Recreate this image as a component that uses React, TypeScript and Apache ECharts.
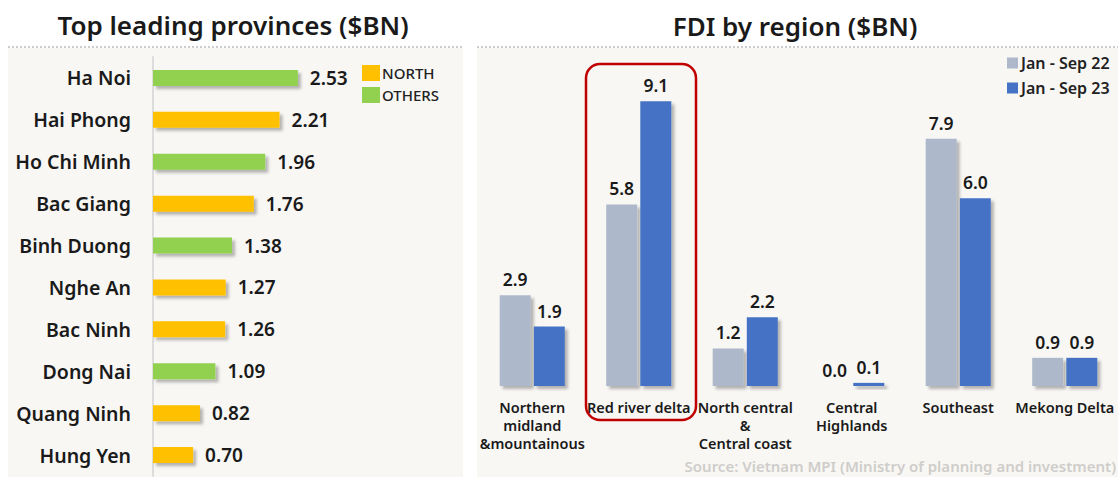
import React, { useEffect, useRef } from "react";
import * as echarts from "echarts";

const provinces = ["Ha Noi", "Hai Phong", "Ho Chi Minh", "Bac Giang", "Binh Duong", "Nghe An", "Bac Ninh", "Dong Nai", "Quang Ninh", "Hung Yen"];
const provinceValues = [2.53, 2.21, 1.96, 1.76, 1.38, 1.27, 1.26, 1.09, 0.82, 0.70];
const provinceGroup = ["OTHERS", "NORTH", "OTHERS", "NORTH", "OTHERS", "NORTH", "NORTH", "OTHERS", "NORTH", "NORTH"];

const regions = ["Northern\nmidland\n&mountainous", "Red river delta", "North central\n&\nCentral coast", "Central\nHighlands", "Southeast", "Mekong Delta"];
const fdi22 = [2.9, 5.8, 1.2, 0.0, 7.9, 0.9];
const fdi23 = [1.9, 9.1, 2.2, 0.1, 6.0, 0.9];

const FONT = "'Noto Sans', sans-serif";
const TXT = "#1a1a1a";

export default function App() {
  const ref = useRef<HTMLDivElement>(null);
  useEffect(() => {
    if (!ref.current) return;
    const chart = echarts.init(ref.current, undefined, { renderer: "svg" });
    const shadow = { shadowBlur: 3, shadowOffsetX: 3, shadowOffsetY: 3, shadowColor: "rgba(0,0,0,0.28)" };
    const provLabel = {
      show: true,
      position: "right" as const,
      distance: 12,
      fontFamily: FONT,
      fontSize: 19,
      fontWeight: 600,
      color: TXT,
      formatter: (p: any) => Number(p.value).toFixed(2),
    };
    const fdiLabel = {
      show: true,
      position: "top" as const,
      distance: 7,
      fontFamily: FONT,
      fontSize: 17.5,
      fontWeight: 600,
      color: TXT,
      formatter: (p: any) => Number(p.value).toFixed(1),
    };
    chart.setOption({
      animation: false,
      backgroundColor: "#ffffff",
      textStyle: { fontFamily: FONT },
      graphic: [
        { type: "rect", z: -10, silent: true, shape: { x: 8, y: 48, width: 455, height: 429 }, style: { fill: "#F8F7F4" } },
        { type: "rect", z: -10, silent: true, shape: { x: 477, y: 48, width: 641, height: 429 }, style: { fill: "#F8F7F4" } },
        { type: "line", z: -5, silent: true, shape: { x1: 8, y1: 47, x2: 463, y2: 47 }, style: { stroke: "#9a9a9a", lineWidth: 1, lineDash: [2, 2] } },
        { type: "line", z: -5, silent: true, shape: { x1: 477, y1: 47, x2: 1118, y2: 47 }, style: { stroke: "#9a9a9a", lineWidth: 1, lineDash: [2, 2] } },
        { type: "text", x: 233, y: 25, style: { text: "Top leading provinces ($BN)", fontFamily: FONT, fontSize: 26, fontWeight: 600, fill: TXT, align: "center", verticalAlign: "middle" } },
        { type: "text", x: 795, y: 26, style: { text: "FDI by region ($BN)", fontFamily: FONT, fontSize: 26, fontWeight: 600, fill: TXT, align: "center", verticalAlign: "middle" } },
        { type: "rect", z: 10, silent: true, shape: { x: 586, y: 64, width: 110, height: 356, r: 14 }, style: { fill: "none", stroke: "#C00000", lineWidth: 2.5 } },
        { type: "text", x: 1116, y: 466, style: { text: "Source: Vietnam MPI (Ministry of planning and investment)", fontFamily: FONT, fontSize: 15, fontWeight: 600, fill: "#CFCDCA", align: "right", verticalAlign: "middle" } },
      ],
      legend: [
        {
          data: ["NORTH", "OTHERS"],
          left: 362,
          top: 65,
          padding: 0,
          orient: "vertical",
          itemWidth: 18,
          itemHeight: 16,
          itemGap: 6,
          icon: "rect",
          textStyle: { fontFamily: FONT, fontSize: 15, fontWeight: 500, color: "#222", padding: [0, 0, 0, -3] },
        },
        {
          data: ["Jan - Sep 22", "Jan - Sep 23"],
          left: 1007,
          top: 55,
          padding: 0,
          orient: "vertical",
          itemWidth: 11,
          itemHeight: 11,
          itemGap: 9,
          icon: "rect",
          textStyle: { fontFamily: FONT, fontSize: 16, fontWeight: 600, color: "#222", padding: [0, 0, 0, -2] },
        },
      ],
      grid: [
        { left: 153, top: 57, width: 229, height: 419 },
        { left: 479, top: 73, width: 643, height: 313 },
      ],
      xAxis: [
        { type: "value", gridIndex: 0, min: 0, max: 4, show: false },
        {
          type: "category",
          gridIndex: 1,
          data: regions,
          axisLine: { show: false },
          axisTick: { show: false },
          axisLabel: { interval: 0, margin: 12, fontFamily: FONT, fontSize: 14.5, fontWeight: 600, color: TXT, lineHeight: 18 },
        },
      ],
      yAxis: [
        {
          type: "category",
          gridIndex: 0,
          inverse: true,
          data: provinces,
          axisLine: { show: true, lineStyle: { color: "#dcdcdc", width: 2 } },
          axisTick: { show: false },
          axisLabel: { margin: 22, fontFamily: FONT, fontSize: 19.5, fontWeight: 600, color: TXT },
        },
        { type: "value", gridIndex: 1, min: 0, max: 10, show: false },
      ],
      series: [
        {
          name: "NORTH",
          type: "bar",
          xAxisIndex: 0,
          yAxisIndex: 0,
          stack: "prov",
          barWidth: 16,
          itemStyle: { color: "#FFC000", ...shadow },
          label: provLabel,
          data: provinceValues.map((v, i) => (provinceGroup[i] === "NORTH" ? v : "-")),
        },
        {
          name: "OTHERS",
          type: "bar",
          xAxisIndex: 0,
          yAxisIndex: 0,
          stack: "prov",
          barWidth: 16,
          itemStyle: { color: "#92D050", ...shadow },
          label: provLabel,
          data: provinceValues.map((v, i) => (provinceGroup[i] === "OTHERS" ? v : "-")),
        },
        {
          name: "Jan - Sep 22",
          type: "bar",
          xAxisIndex: 1,
          yAxisIndex: 1,
          barWidth: 31,
          barGap: "10%",
          itemStyle: { color: "#ADB9CA", ...shadow },
          label: fdiLabel,
          data: fdi22,
        },
        {
          name: "Jan - Sep 23",
          type: "bar",
          xAxisIndex: 1,
          yAxisIndex: 1,
          barWidth: 31,
          barGap: "10%",
          itemStyle: { color: "#4472C4", ...shadow },
          label: fdiLabel,
          data: fdi23,
        },
      ],
    });
    return () => chart.dispose();
  }, []);
  return <div ref={ref} style={{ position: "fixed", left: 0, top: 0, width: 1118, height: 477 }} />;
}
